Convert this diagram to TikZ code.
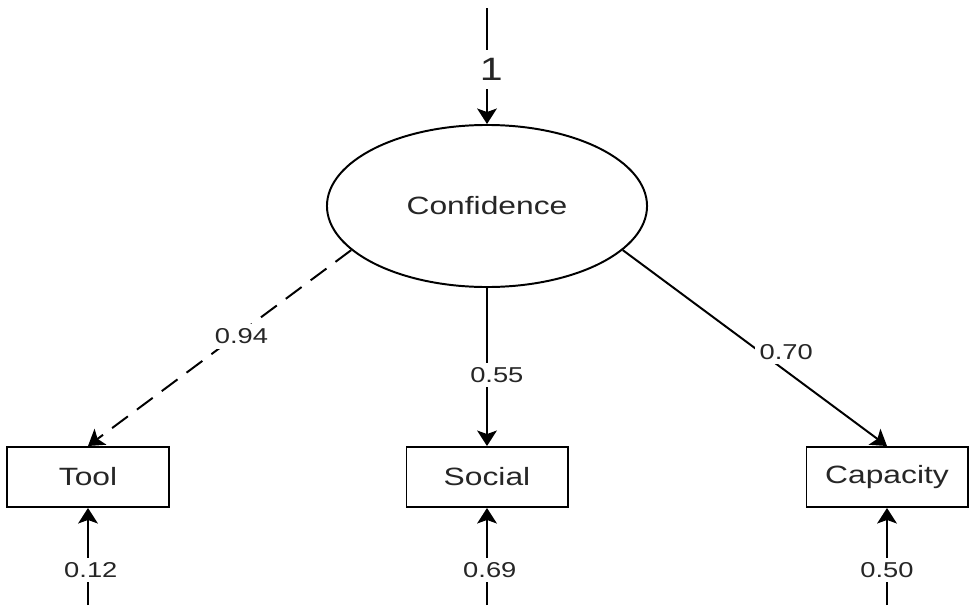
\documentclass[tikz,border=0pt]{standalone}
\usepackage{fontspec}
\setmainfont[FakeStretch=1.27]{Liberation Sans}
\usetikzlibrary{arrows.meta,shapes.geometric}

\begin{document}
\begin{tikzpicture}[x=0.025cm, y=-0.025cm, line width=1.4pt,
		font=\fontsize{15.3}{18}\selectfont, text=black!85,
		arr/.style={-{Stealth[length=11pt,width=14pt,inset=2.5pt]}},
		latent/.style={draw, ellipse, minimum width=8cm, minimum height=4.05cm, inner sep=0pt, font=\fontsize{17.8}{21}\selectfont},
		obs/.style={draw, rectangle, minimum width=4.025cm, minimum height=1.5cm, inner sep=0pt, font=\fontsize{17.8}{21}\selectfont},
		lbl/.style={fill=white, inner sep=3.4pt}]
			%%%%% START %%%%%
			
			\useasboundingbox (0, 0) rectangle (973, 605);
			
			\node[latent] (conf) at (487, 206) {Confidence};
			
			\node[obs] (tool) at (88, 477) {Tool};
			\node[obs] (social) at (487, 477) {Social};
			\node[obs] (capa) at (887, 477) {Capacity};
			
			\coordinate (etop) at (487, 8);
			\coordinate (etool) at (88, 605);
			\coordinate (esocial) at (487, 605);
			\coordinate (ecapa) at (887, 605);
			
			\draw[arr] (etop) -- node[lbl, pos=0.53, xshift=3pt, inner sep=6pt, font=\fontsize{23}{27}\selectfont] {1} (conf.north);
			
			\draw[arr, dash pattern=on 14pt off 8pt] (conf.198) -- node[lbl, pos=0.44, xshift=4.3pt] {0.94} (tool.north);
			\draw[arr] (conf.south) -- node[lbl, pos=0.55, xshift=7pt] {0.55} (social.north);
			\draw[arr] (conf.342) -- node[lbl, pos=0.52, xshift=18.5pt] {0.70} (capa.north);
			
			\draw[arr] (etool) -- node[lbl, pos=0.36, xshift=2pt] {0.12} (tool.south);
			\draw[arr] (esocial) -- node[lbl, pos=0.36, xshift=2pt] {0.69} (social.south);
			\draw[arr] (ecapa) -- node[lbl, pos=0.36] {0.50} (capa.south);
			
			%%%%% END %%%%%
		\end{tikzpicture}
\end{document}
